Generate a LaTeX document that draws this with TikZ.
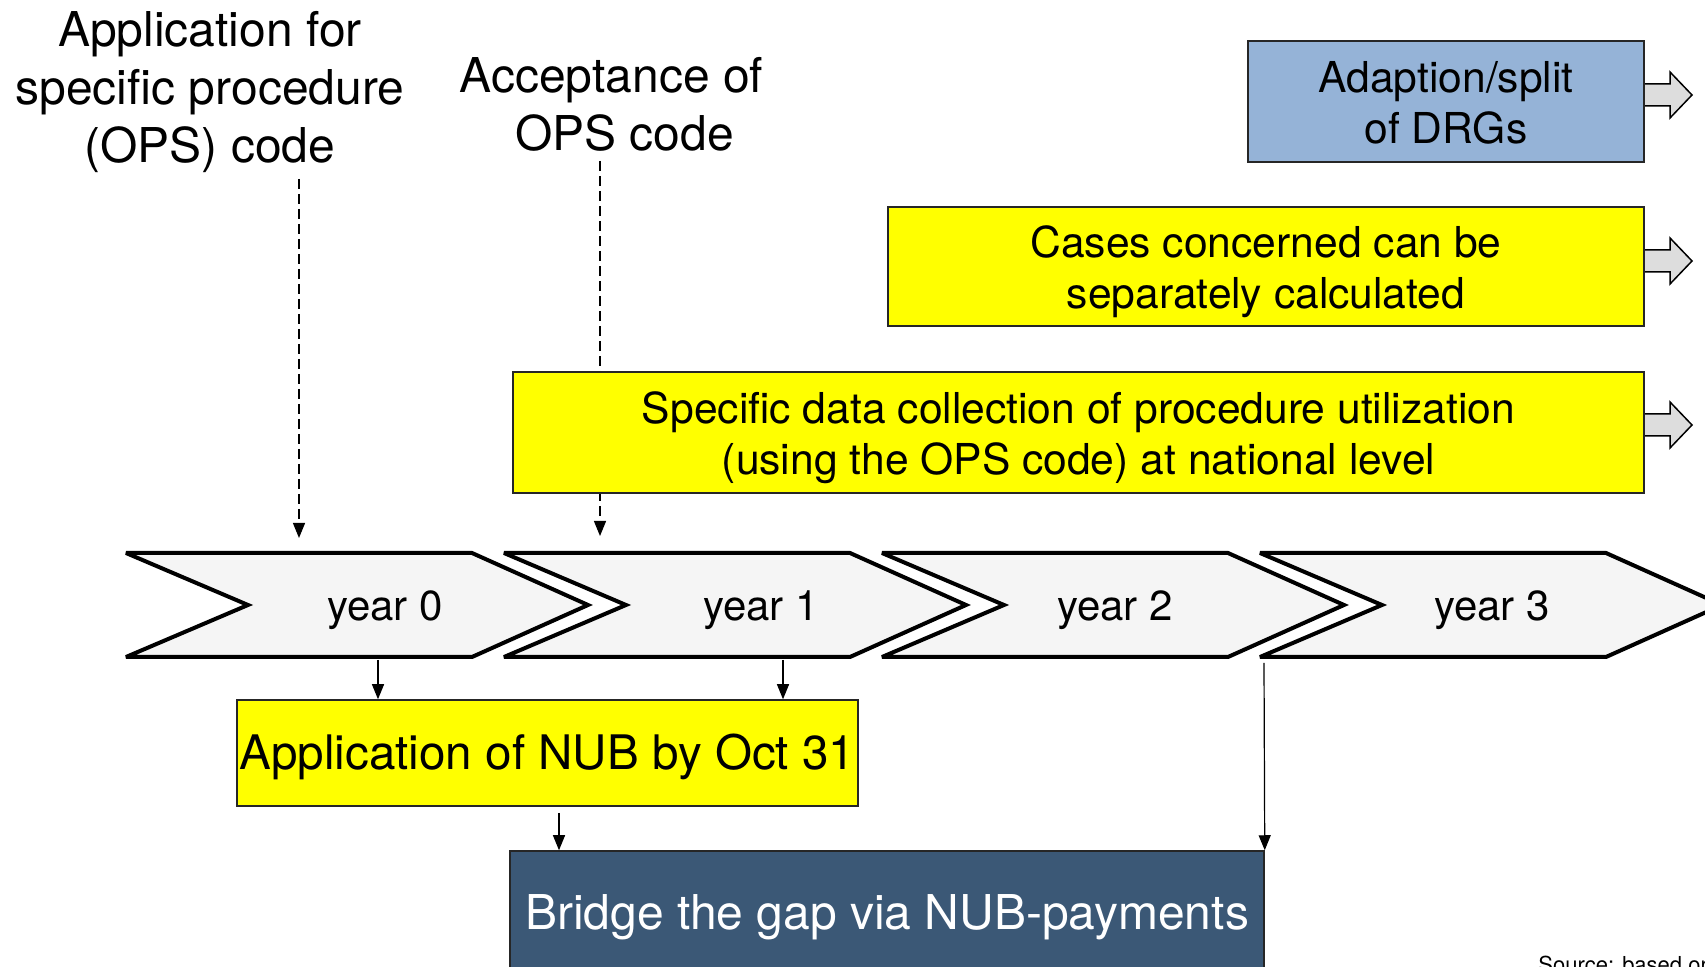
\documentclass[tikz,border=0pt]{standalone}
\usepackage{fontspec}
\setmainfont{TeX Gyre Heros}
\usetikzlibrary{arrows.meta}
\definecolor{chevfill}{HTML}{F5F5F5}
\definecolor{lightblue}{HTML}{95B3D7}
\definecolor{darkblue}{HTML}{3B5876}
\definecolor{arrowgray}{HTML}{DDDDDD}
\definecolor{boxyellow}{HTML}{FFFF00}
\begin{document}
\begin{tikzpicture}[x=0.5pt,y=-0.5pt,
  bigtext/.style={font=\fontsize{24}{29}\selectfont, align=center, inner sep=0pt},
  box/.style={draw=black!85, line width=0.75pt, inner sep=0pt, align=center, font=\fontsize{21.3}{25.5}\selectfont},
  chev/.style={draw=black, line width=2pt, fill=chevfill, line join=miter, miter limit=3},
  yearlabel/.style={font=\fontsize{21}{25}\selectfont, inner sep=0pt},
  conn/.style={line width=0.6pt, -{Triangle[width=6pt,length=7.5pt]}},
  dconn/.style={conn, dash pattern=on 5pt off 2.5pt},
  blockarrow/.style={draw=black, line width=0.75pt, fill=arrowgray, line join=miter}
]
\useasboundingbox (0,0) rectangle (1705,967);

% chevrons
\foreach \L in {126,504,882,1260} {
  \draw[chev] (\L,553) -- ++(346,0) -- ++(116,52) -- ++(-116,52) -- ++(-346,0) -- ++(122,-52) -- cycle;
}
\node[yearlabel] (y0) at (385,610) {year 0};
\node[yearlabel] (y1) at (761,610) {year 1};
\node[yearlabel] (y2) at (1115,610) {year 2};
\node[yearlabel] (y3) at (1492,610) {year 3};

% top labels
\node[bigtext] (lab1) at (210,92) {Application for\\specific procedure\\(OPS) code};
\node[bigtext] (lab2) at (618,104) {Acceptance of\hspace*{6.5pt}\\\hspace*{6.5pt}OPS code};

% dashed connectors
\coordinate (d0) at (299,179); \coordinate (d0e) at (299,538);
\coordinate (d1) at (600,161); \coordinate (d1e) at (600,536);
\draw[dconn] (d0) -- (d0e);
\draw[dconn] (d1) -- (d1e);

% block arrows
\foreach \yc in {95,261,425} {
  \draw[blockarrow] (1644,\yc-11) -- (1670,\yc-11) -- (1670,\yc-23) -- (1692,\yc) -- (1670,\yc+23) -- (1670,\yc+11) -- (1644,\yc+11);
}

% boxes
\node[box, fill=lightblue, minimum width=198pt, minimum height=60.5pt] (drg) at (1446,101.5) {\rule{0pt}{17pt}Adaption/split\\of DRGs};
\node[box, fill=boxyellow, minimum width=378pt, minimum height=59.5pt] (cases) at (1266,266.5) {\rule{0pt}{21pt}Cases concerned can be\\separately calculated};
\node[box, fill=boxyellow, minimum width=565.5pt, minimum height=60.5pt] (spec) at (1078.5,432.5) {\rule{0pt}{21pt}Specific data collection of procedure utilization\\(using the OPS code) at national level};

\node[box, fill=boxyellow, font=\fontsize{23.8}{28}\selectfont, minimum width=310.5pt, minimum height=53pt] (nub) at (547.5,753) {\rule{0pt}{22pt}Application of NUB by Oct 31};
\node[box, fill=darkblue, text=white, font=\fontsize{24}{29}\selectfont, minimum width=377pt, minimum height=62pt] (bridge) at (887,913) {\rule{0pt}{22pt}Bridge the gap via NUB-payments};

% solid connectors
\coordinate (c0) at (378,660);
\coordinate (c1) at (783,660);
\coordinate (c2) at (559,813);
\coordinate (c3) at (1264,663);
\draw[conn] (c0) -- (c0 |- nub.north);
\draw[conn] (c1) -- (c1 |- nub.north);
\draw[conn] (c2) -- (c2 |- bridge.north);
\draw[conn] (c3) -- (bridge.north east);

% source
\node[anchor=base west, font=\fontsize{11}{13}\selectfont, inner sep=0pt] (src) at (1538,973) {Source: based on};
\end{tikzpicture}
\end{document}
